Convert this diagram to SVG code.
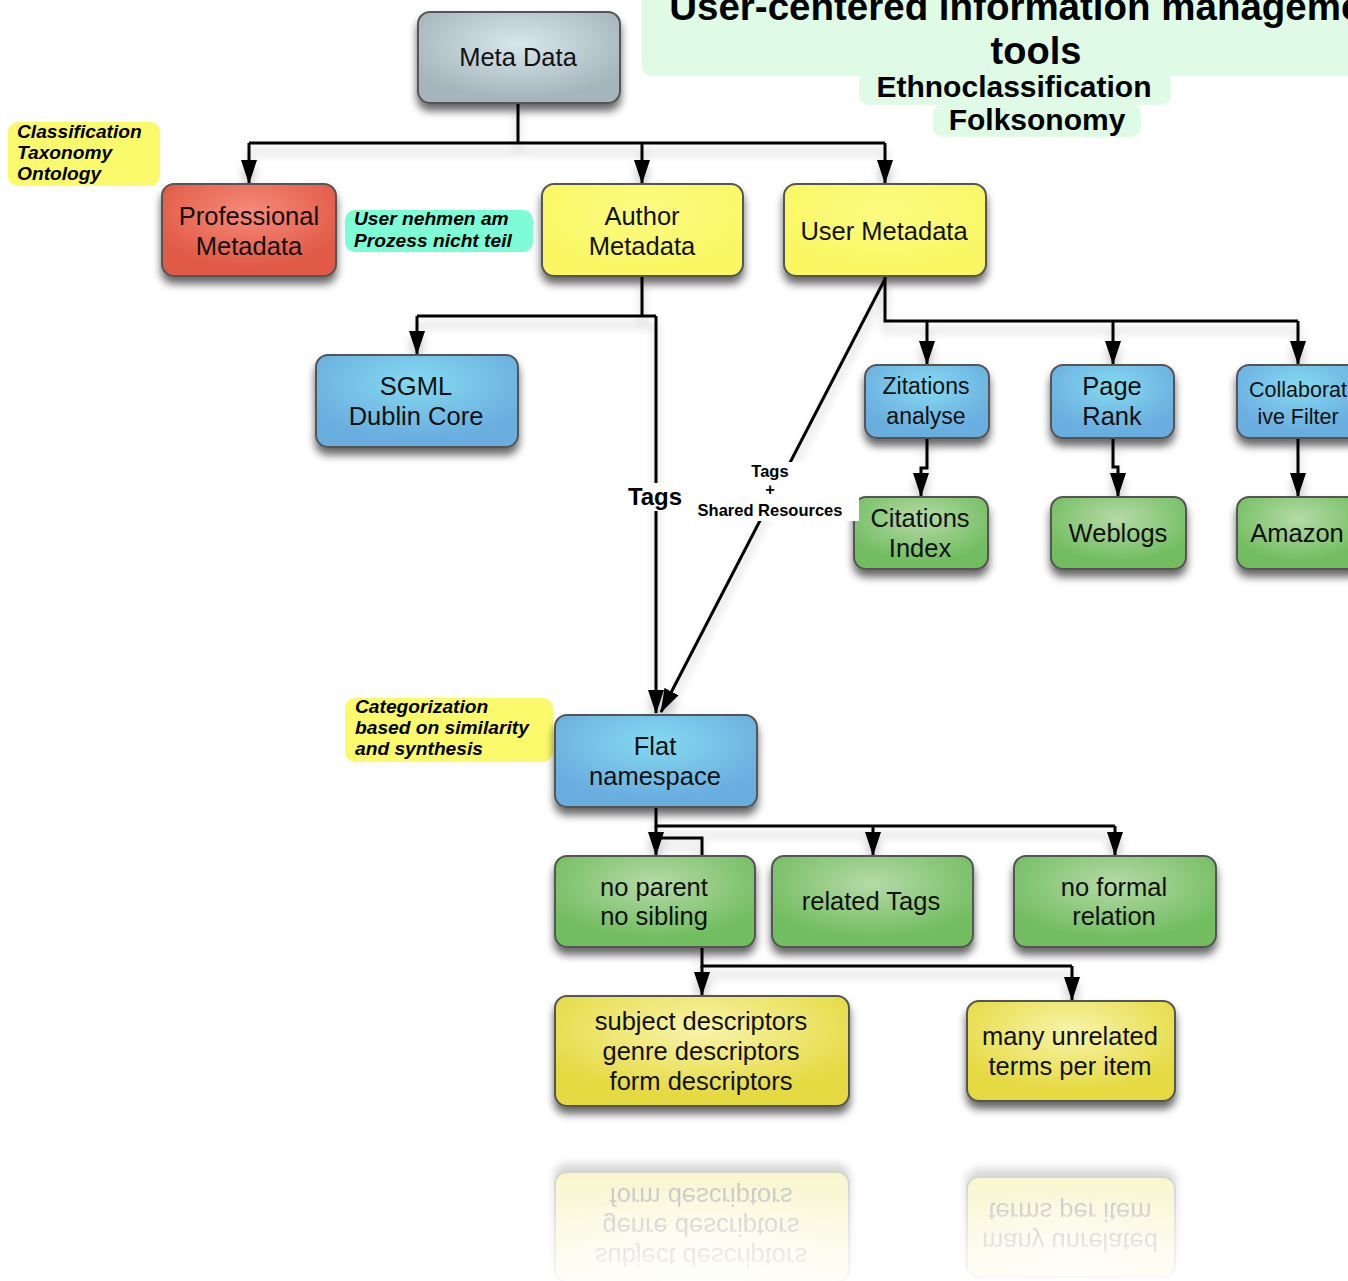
<svg xmlns="http://www.w3.org/2000/svg" xmlns:xlink="http://www.w3.org/1999/xlink" width="1348" height="1281" viewBox="0 0 1348 1281">
<style>
.box{stroke:#555;stroke-width:2;filter:url(#shadow)}
.lbl{font-family:"Liberation Sans",Arial,Helvetica,sans-serif;font-size:25.5px;fill:#111;text-anchor:middle}
.sm{font-size:23px}
.xs{font-size:21.5px}
.note{font-family:"Liberation Sans",Arial,Helvetica,sans-serif;font-size:19.2px;font-weight:bold;font-style:italic;fill:#000}
.ttl{font-family:"Liberation Sans",Arial,Helvetica,sans-serif;font-weight:bold;fill:#000;text-anchor:middle}
.line{fill:none;stroke:#000;stroke-width:3}
.arr{marker-end:url(#ah)}
.clbl{font-family:"Liberation Sans",Arial,Helvetica,sans-serif;font-weight:bold;fill:#000;text-anchor:middle}
</style>
<defs>
<filter id="shadow" x="-20%" y="-20%" width="140%" height="160%">
<feDropShadow dx="0" dy="7" stdDeviation="4.5" flood-color="#000" flood-opacity="0.6"/>
</filter>
<filter id="lshadow" x="-10%" y="-10%" width="120%" height="130%">
<feDropShadow dx="0" dy="9" stdDeviation="5" flood-color="#000" flood-opacity="0.22"/>
</filter>
<marker id="ah" viewBox="0 0 24 16" refX="23" refY="8" markerWidth="24" markerHeight="16" markerUnits="userSpaceOnUse" orient="auto">
<path d="M0,0 L24,8 L0,16 z" fill="#000"/>
</marker>
<radialGradient id="gGray" cx="0.5" cy="0.35" r="0.6">
<stop offset="0" stop-color="#d8e7ec"/><stop offset="1" stop-color="#a6b5bb"/>
</radialGradient>
<radialGradient id="gRed" cx="0.5" cy="0.3" r="0.6">
<stop offset="0" stop-color="#f68a7a"/><stop offset="1" stop-color="#e05a45"/>
</radialGradient>
<radialGradient id="gBlue" cx="0.5" cy="0.3" r="0.6">
<stop offset="0" stop-color="#84d9f0"/><stop offset="1" stop-color="#6aaee0"/>
</radialGradient>
<radialGradient id="gGreen" cx="0.5" cy="0.3" r="0.6">
<stop offset="0" stop-color="#b5daa7"/><stop offset="1" stop-color="#72bd60"/>
</radialGradient>
<radialGradient id="gYel" cx="0.5" cy="0.3" r="0.6">
<stop offset="0" stop-color="#fcfb80"/><stop offset="1" stop-color="#faf764"/>
</radialGradient>
<radialGradient id="gYel2" cx="0.5" cy="0.3" r="0.6">
<stop offset="0" stop-color="#f8f4aa"/><stop offset="1" stop-color="#e5da42"/>
</radialGradient>
<linearGradient id="fade" x1="0" y1="0" x2="0" y2="1">
<stop offset="0" stop-color="#fff" stop-opacity="0.33"/><stop offset="1" stop-color="#fff" stop-opacity="0.04"/>
</linearGradient>
<mask id="reflMask" maskUnits="userSpaceOnUse" x="0" y="1140" width="1348" height="141">
<rect x="0" y="1140" width="1348" height="141" fill="url(#fade)"/>
</mask>
</defs>

<rect x="0" y="0" width="1348" height="1281" fill="#fff"/>

<!-- title notes -->
<g id="title">
<rect x="642" y="-20" width="740" height="96" rx="10" fill="#dffae5"/>
<rect x="859" y="71" width="312" height="34" rx="10" fill="#dffae5"/>
<rect x="933" y="104" width="208" height="33" rx="10" fill="#dffae5"/>
<text class="ttl" x="1034" y="20" font-size="38.5">User-centered information management</text>
<text class="ttl" x="1036" y="64" font-size="38">tools</text>
<text class="ttl" x="1014" y="97" font-size="30">Ethnoclassification</text>
<text class="ttl" x="1037" y="130" font-size="30">Folksonomy</text>
</g>

<!-- side notes -->
<g id="note-classification">
<rect x="8" y="122" width="152" height="64" rx="10" fill="#fbfa6c"/>
<text class="note" x="17" y="138">Classification</text>
<text class="note" x="17" y="159">Taxonomy</text>
<text class="note" x="17" y="180">Ontology</text>
</g>
<g id="note-user">
<rect x="345" y="210" width="188" height="42" rx="10" fill="#7dfcd6"/>
<text class="note" x="354" y="225">User nehmen am</text>
<text class="note" x="354" y="247">Prozess nicht teil</text>
</g>
<g id="note-categorization">
<rect x="345" y="698" width="208" height="64" rx="10" fill="#fbfa6c"/>
<text class="note" x="355" y="713">Categorization</text>
<text class="note" x="355" y="734">based on similarity</text>
<text class="note" x="355" y="755">and synthesis</text>
</g>

<!-- connectors -->
<g id="connectors" filter="url(#lshadow)">
<path class="line" d="M518,103 V143 M249,143 H885"/>
<path class="line arr" d="M249,143 V183"/>
<path class="line arr" d="M642,143 V183"/>
<path class="line arr" d="M885,143 V183"/>
<path class="line" d="M642,277 V316 M417,316 H656"/>
<path class="line arr" d="M417,316 V354"/>
<path class="line arr" d="M656,316 V713"/>
<path class="line arr" d="M885,279 L661,712"/>
<path class="line" d="M885,277 V321 H1298"/>
<path class="line arr" d="M927,321 V364"/>
<path class="line arr" d="M1113,321 V364"/>
<path class="line arr" d="M1298,321 V364"/>
<path class="line arr" d="M927,438 V468 H921 V496"/>
<path class="line arr" d="M1113,438 V467 H1118 V496"/>
<path class="line arr" d="M1298,438 V496"/>
<path class="line" d="M656,808 V826 H1115"/>
<path class="line arr" d="M656,826 V855"/>
<path class="line arr" d="M873,826 V855"/>
<path class="line arr" d="M1115,826 V855"/>
<path class="line" d="M656,838 H702 V856"/>
<path class="line" d="M702,948 V966 H1072"/>
<path class="line arr" d="M702,966 V995"/>
<path class="line arr" d="M1072,966 V1000"/>
</g>

<!-- nodes -->
<g id="n-metadata">
<rect class="box" x="418" y="12" width="202" height="91" rx="12" fill="url(#gGray)"/>
<text class="lbl" x="518" y="66">Meta Data</text>
</g>
<g id="n-professional">
<rect class="box" x="162" y="184" width="174" height="92" rx="12" fill="url(#gRed)"/>
<text class="lbl" x="249" y="225">Professional</text>
<text class="lbl" x="249" y="255">Metadata</text>
</g>
<g id="n-author">
<rect class="box" x="542" y="184" width="201" height="92" rx="12" fill="url(#gYel)"/>
<text class="lbl" x="642" y="225">Author</text>
<text class="lbl" x="642" y="255">Metadata</text>
</g>
<g id="n-user">
<rect class="box" x="784" y="184" width="202" height="92" rx="12" fill="url(#gYel)"/>
<text class="lbl" x="884" y="240">User Metadata</text>
</g>
<g id="n-sgml">
<rect class="box" x="316" y="355" width="202" height="92" rx="12" fill="url(#gBlue)"/>
<text class="lbl" x="416" y="395">SGML</text>
<text class="lbl" x="416" y="425">Dublin Core</text>
</g>
<g id="n-zitations">
<rect class="box" x="865" y="365" width="124" height="73" rx="12" fill="url(#gBlue)"/>
<text class="lbl sm" x="926" y="394">Zitations</text>
<text class="lbl sm" x="926" y="424">analyse</text>
</g>
<g id="n-pagerank">
<rect class="box" x="1051" y="365" width="123" height="73" rx="12" fill="url(#gBlue)"/>
<text class="lbl" x="1112" y="395">Page</text>
<text class="lbl" x="1112" y="425">Rank</text>
</g>
<g id="n-collab">
<rect class="box" x="1237" y="365" width="124" height="73" rx="12" fill="url(#gBlue)"/>
<text class="lbl xs" x="1298" y="397">Collaborat</text>
<text class="lbl xs" x="1298" y="424">ive Filter</text>
</g>
<g id="n-citations">
<rect class="box" x="854" y="497" width="134" height="72" rx="12" fill="url(#gGreen)"/>
<text class="lbl" x="920" y="527">Citations</text>
<text class="lbl" x="920" y="557">Index</text>
</g>
<g id="n-weblogs">
<rect class="box" x="1051" y="497" width="135" height="72" rx="12" fill="url(#gGreen)"/>
<text class="lbl" x="1118" y="542">Weblogs</text>
</g>
<g id="n-amazon">
<rect class="box" x="1237" y="497" width="124" height="72" rx="12" fill="url(#gGreen)"/>
<text class="lbl" x="1297" y="542">Amazon</text>
</g>
<g id="n-flat">
<rect class="box" x="555" y="715" width="202" height="92" rx="12" fill="url(#gBlue)"/>
<text class="lbl" x="655" y="755">Flat</text>
<text class="lbl" x="655" y="785">namespace</text>
</g>
<g id="n-noparent">
<rect class="box" x="555" y="856" width="200" height="91" rx="12" fill="url(#gGreen)"/>
<text class="lbl" x="654" y="896">no parent</text>
<text class="lbl" x="654" y="925">no sibling</text>
</g>
<g id="n-related">
<rect class="box" x="772" y="856" width="201" height="91" rx="12" fill="url(#gGreen)"/>
<text class="lbl" x="871" y="910">related Tags</text>
</g>
<g id="n-noformal">
<rect class="box" x="1014" y="856" width="202" height="91" rx="12" fill="url(#gGreen)"/>
<text class="lbl" x="1114" y="896">no formal</text>
<text class="lbl" x="1114" y="925">relation</text>
</g>
<g id="n-descriptors">
<rect class="box" x="555" y="996" width="294" height="110" rx="12" fill="url(#gYel2)"/>
<text class="lbl" x="701" y="1030">subject descriptors</text>
<text class="lbl" x="701" y="1060">genre descriptors</text>
<text class="lbl" x="701" y="1090">form descriptors</text>
</g>
<g id="n-unrelated">
<rect class="box" x="967" y="1001" width="208" height="100" rx="12" fill="url(#gYel2)"/>
<text class="lbl" x="1070" y="1045">many unrelated</text>
<text class="lbl" x="1070" y="1075">terms per item</text>
</g>

<!-- connector labels -->
<g id="connector-labels">
<rect x="624" y="483" width="62" height="28" fill="#fff"/>
<text class="clbl" x="655" y="505" font-size="24">Tags</text>
<rect x="692" y="462" width="167" height="59" fill="#fff"/>
<text class="clbl" x="770" y="477" font-size="16.5">Tags</text>
<text class="clbl" x="770" y="495" font-size="16.5">+</text>
<text class="clbl" x="770" y="516" font-size="16.5">Shared Resources</text>
</g>

<!-- reflection -->
<g id="reflection" mask="url(#reflMask)">
<g transform="translate(0,2278) scale(1,-1)">
<use href="#n-descriptors" xlink:href="#n-descriptors"/>
<use href="#n-unrelated" xlink:href="#n-unrelated"/>
</g>
</g>
</svg>
